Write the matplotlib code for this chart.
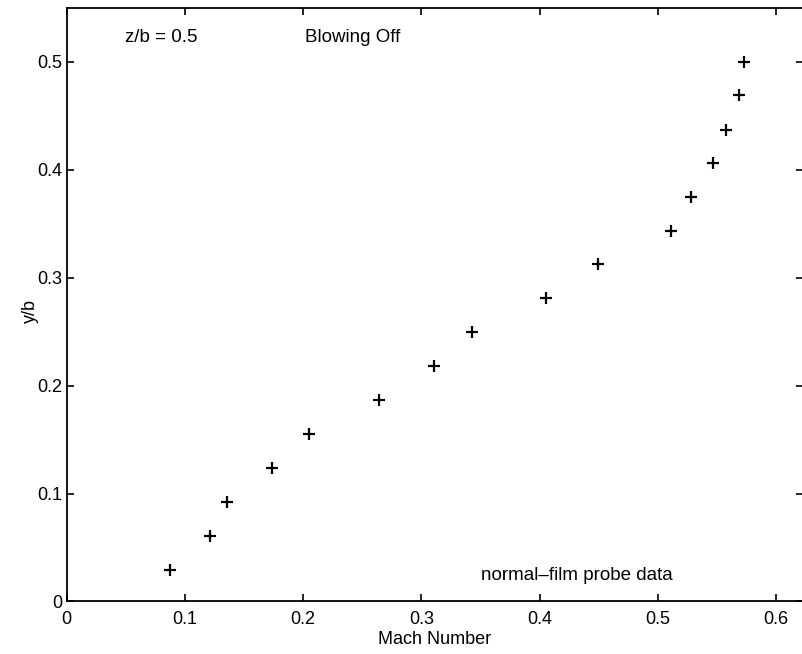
import matplotlib
matplotlib.use('Agg')
import matplotlib.pyplot as plt

plt.rcParams.update({
    'font.family': ['Liberation Sans', 'DejaVu Sans'],
    'font.size': 13,
})

# normal-film probe data, z/b = 0.5, blowing off
mach = [0.087, 0.121, 0.136, 0.174, 0.205, 0.264, 0.311, 0.343,
        0.405, 0.449, 0.511, 0.528, 0.547, 0.558, 0.569, 0.573]
yb = [0.029, 0.061, 0.092, 0.124, 0.155, 0.187, 0.218, 0.250,
      0.281, 0.313, 0.343, 0.375, 0.406, 0.437, 0.469, 0.500]

xticks = [0, 0.1, 0.2, 0.3, 0.4, 0.5, 0.6]
yticks = [0, 0.1, 0.2, 0.3, 0.4, 0.5]

fig = plt.figure(figsize=(8.03, 6.54), dpi=100)
ax = fig.add_axes([0.083, 0.0803, 0.9174, 0.9074])

ax.plot(mach, yb, linestyle='none', marker='+', color='black',
        markersize=8.5, markeredgewidth=1.6)

ax.set_xlim(0, 0.623)
ax.set_ylim(0, 0.55)
ax.set_xticks(xticks)
ax.set_xticklabels(['0', '0.1', '0.2', '0.3', '0.4', '0.5', '0.6'])
ax.set_yticks(yticks)
ax.set_yticklabels(['0', '0.1', '0.2', '0.3', '0.4', '0.5'])
ax.tick_params(direction='in', length=5, width=1.2, top=True, right=True,
               labelsize=13)
ax.tick_params(axis='x', pad=7)
ax.tick_params(axis='y', pad=3)
for sp in ax.spines.values():
    sp.set_linewidth(1.3)

ax.set_xlabel('Mach Number', fontsize=13, labelpad=2)
ax.set_ylabel('y/b', fontsize=13)
ax.yaxis.set_label_coords(-0.037, 0.49)

ax.text(0.049, 0.523, 'z/b = 0.5', fontsize=13.5, va='center', ha='left')
ax.text(0.2015, 0.523, 'Blowing Off', fontsize=13.5, va='center', ha='left')
ax.text(0.350, 0.0245, 'normal\u2013film probe data', fontsize=13.5,
        va='center', ha='left')

fig.savefig('out.png', dpi=100)
